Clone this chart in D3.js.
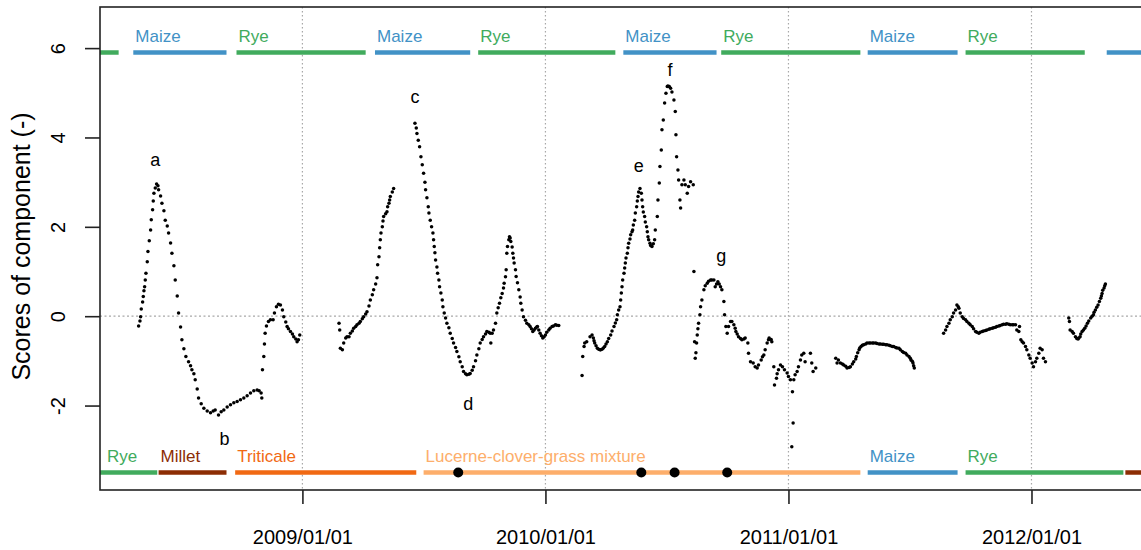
<!DOCTYPE html>
<html>
<head>
<meta charset="utf-8">
<style>
  body { margin: 0; background: #fff; }
  svg { display: block; font-family: "Liberation Sans", Arial, sans-serif; }
</style>
<title>Scores of component</title>
</head>
<body>
<script src="https://cdn.jsdelivr.net/npm/d3@7"></script>
<script>

/* data: [day, score], day counted from 2008-03-01 */

var dayZero = new Date(2008, 2, 1);

var run1 = [[60,-0.22],[62,-0.11],[63,-0.01],[64,0.16],[66,0.32],[67,0.44],[68,0.57],[69,0.66],[70,0.81],[71,0.96],[73,1.22],[74,1.45],[76,1.69],[78,1.93],[79,2.16],[81,2.38],[82,2.58],[83,2.75],[85,2.87],[87,2.96],
  [89,2.92],[90,2.83],[93,2.69],[95,2.53],[98,2.36],[100,2.15],[103,2.02],[105,1.86],[108,1.64],[110,1.41],[113,1.13],[115,0.81],[118,0.45],[120,0.07],[123,-0.24],[125,-0.53],[128,-0.73],[131,-0.90],[135,-1.02],[138,-1.11],[140,-1.20],[143,-1.29],[145,-1.42],[148,-1.63],[150,-1.83],[154,-1.96],[158,-2.06],[163,-2.12],[168,-2.16],[172,-2.12],[175,-2.10],[180,-2.21],[184,-2.14],[188,-2.10],[193,-2.03],[198,-1.98],[203,-1.94],[208,-1.91],[213,-1.87],[218,-1.83],[223,-1.78],[228,-1.72],[233,-1.67],[238,-1.65],[241,-1.67],[244,-1.72],[245,-1.83],
  [246,-1.20],[248,-0.90],[249,-0.62],[250,-0.38],[252,-0.22],[255,-0.12],[258,-0.08],[262,-0.08],[264,0.07],[267,0.21],[270,0.27],[273,0.25],[276,0.14],[278,-0.01],[281,-0.13],[283,-0.23],[285,-0.28],[288,-0.34],[291,-0.40],[293,-0.46],[296,-0.51],[298,-0.57],[300,-0.53],[302,-0.42]];

var run2 = [[361,-0.16],[362,-0.31],[363,-0.72],[366,-0.75],[368,-0.60],[371,-0.49],[373,-0.46],[376,-0.46],[378,-0.38],[381,-0.33],[383,-0.27],[386,-0.23],[388,-0.19],[391,-0.16],[393,-0.12],[396,-0.06],[398,-0.01],[401,0.05],[403,0.10],[406,0.23],[408,0.36],[411,0.48],[413,0.59],[416,0.72],[418,0.86],[419,1.15],[421,1.33],[422,1.53],[423,1.71],[424,1.86],[426,2.00],[427,2.13],[428,2.23],[431,2.29],[433,2.34],[434,2.45],[436,2.53],[437,2.60],[438,2.68],[441,2.78],[443,2.86]];

var run3 = [[475,4.32],[477,4.21],[478,4.09],[480,3.94],[482,3.79],[484,3.57],[486,3.39],[488,3.20],[490,3.00],[491,2.83],[493,2.65],[495,2.45],[496,2.31],[498,2.15],[500,2.00],[502,1.86],[503,1.71],[504,1.56],[505,1.42],[506,1.26],[508,1.10],[509,0.96],[511,0.81],[512,0.66],[514,0.52],[516,0.36],[517,0.21],[519,0.07],[521,-0.04],[523,-0.16],[526,-0.26],[528,-0.38],[531,-0.50],[533,-0.60],[536,-0.70],[538,-0.79],[541,-0.91],[543,-1.02],[546,-1.13],[548,-1.24],[551,-1.29],[553,-1.31],[556,-1.30],[558,-1.28],[561,-1.21],[563,-1.13],[566,-1.00],[568,-0.87],[571,-0.73],[573,-0.60],[576,-0.52],[578,-0.46],[581,-0.40],[583,-0.34],[586,-0.36],[588,-0.38],[589,-0.60],[591,-0.38],[593,-0.31],[596,-0.16],[598,0.07],[600,0.19],[602,0.29],[604,0.41],[606,0.51],[608,0.63],[609,0.74],[611,0.88],[612,1.04],[613,1.41],[614,1.56],[616,1.71],[617,1.78],[618,1.75],[619,1.67],[621,1.55],[622,1.41],[623,1.30],[624,1.19],[626,1.04],[627,0.89],[629,0.75],[631,0.59],[633,0.43],[634,0.29],[636,0.14],[638,-0.01],[641,-0.09],[643,-0.16],[646,-0.19],[648,-0.23],[650,-0.28],[652,-0.34],[654,-0.31],[656,-0.27],[658,-0.24],[659,-0.23],[661,-0.31],[663,-0.38],[665,-0.44],[667,-0.49],[669,-0.46],[671,-0.42],[673,-0.36],[676,-0.31],[678,-0.27],[681,-0.23],[683,-0.22],[686,-0.19],[688,-0.20],[691,-0.21]];

var run4 = [[726,-1.33],[727,-0.90],[729,-0.68],[730,-0.60],[733,-0.57],[738,-0.46],[741,-0.42],[743,-0.49],[744,-0.55],[745,-0.60],[747,-0.66],[749,-0.72],[751,-0.74],[753,-0.75],[754,-0.75],[756,-0.74],[758,-0.71],[760,-0.68],[762,-0.62],[764,-0.57],[766,-0.50],[769,-0.42],[771,-0.33],[774,-0.23],[776,-0.15],[778,-0.08],[779,0.03],[781,0.14],[783,0.21],[784,0.36],[785,0.52],[786,0.66],[787,0.81],[789,0.96],[790,1.08],[791,1.19],[792,1.30],[794,1.41],[795,1.53],[796,1.63],[798,1.73],[799,1.82],[801,1.89],[802,1.93],[803,2.04],[805,2.15],[806,2.31],[808,2.45],[809,2.58],[810,2.68],[811,2.78],[813,2.86],[815,2.75],[816,2.60],[817,2.45],[818,2.33],[820,2.23],[821,2.11],[823,2.00],[824,1.89],[825,1.78],[826,1.71],[828,1.63],[829,1.58],[831,1.56],[833,1.62],[835,1.71],[836,1.93],[839,2.23],[840,2.60],[842,2.98],[843,3.35],[845,3.72],[846,4.17],[848,4.39],[850,4.77],[852,4.99],[854,5.14],[855,5.15],[857,5.14],[859,5.10],[861,5.02],[864,4.84],[866,4.58],[867,4.06],[868,3.57],[870,3.27],[871,3.05],[873,2.60],[874,2.42],[876,2.94],[879,3.05],[881,2.94],[884,2.75],[886,2.90],[889,3.01],[893,2.94]];

var run5 = [[894,1.00],[895,-0.57],[896,-0.94],[897,-0.82],[898,-0.60],[899,-0.42],[900,-0.28],[901,-0.16],[903,0.03],[904,0.21],[906,0.36],[909,0.59],[911,0.68],[914,0.74],[916,0.78],[919,0.81],[921,0.81],[924,0.81],[926,0.66],[928,0.72],[930,0.77],[932,0.72],[934,0.66],[936,0.59],[939,0.33],[940,0.03],[942,-0.23],[944,-0.38],[946,-0.23],[949,-0.12],[951,-0.12],[954,-0.19],[956,-0.27],[957,-0.34],[959,-0.40],[961,-0.46],[964,-0.50],[966,-0.53],[969,-0.51],[971,-0.49],[975,-0.60],[976,-0.83],[979,-1.02],[983,-1.05],[986,-1.13],[989,-1.16],[991,-1.09],[995,-0.98],[997,-0.91],[999,-0.87],[1001,-0.75],[1004,-0.60],[1006,-0.53],[1007,-0.49],[1010,-0.52],[1011,-0.57],[1014,-1.13],[1015,-1.54],[1018,-1.39],[1019,-1.29],[1021,-1.20],[1024,-1.09],[1027,-1.13],[1030,-1.20],[1034,-1.27],[1036,-1.35],[1039,-1.42],[1041,-2.92],[1042,-1.69],[1043,-2.39],[1044,-1.42],[1046,-1.31],[1049,-1.24],[1051,-1.13],[1054,-0.98],[1056,-0.87],[1059,-0.83],[1061,-1.02],[1069,-0.83],[1071,-1.05],[1073,-1.24],[1077,-1.16]];

var run6 = [[1107,-0.94],[1109,-1.05],[1111,-0.98],[1114,-1.05],[1117,-1.07],[1119,-1.09],[1122,-1.12],[1124,-1.16],[1127,-1.15],[1129,-1.13],[1132,-1.07],[1134,-1.02],[1137,-0.96],[1138,-0.90],[1140,-0.82],[1142,-0.75],[1143,-0.71],[1145,-0.68],[1147,-0.65],[1149,-0.64],[1152,-0.62],[1154,-0.60],[1157,-0.60],[1159,-0.60],[1162,-0.60],[1164,-0.60],[1167,-0.60],[1169,-0.61],[1172,-0.62],[1174,-0.62],[1177,-0.63],[1179,-0.63],[1182,-0.64],[1184,-0.64],[1187,-0.65],[1189,-0.66],[1192,-0.68],[1194,-0.68],[1197,-0.70],[1199,-0.71],[1202,-0.72],[1204,-0.75],[1207,-0.79],[1209,-0.81],[1212,-0.83],[1214,-0.87],[1217,-0.90],[1219,-0.94],[1220,-0.98],[1222,-1.01],[1223,-1.05],[1224,-1.11],[1225,-1.16]];

var run7 = [[1269,-0.38],[1272,-0.31],[1274,-0.23],[1277,-0.16],[1279,-0.08],[1282,-0.01],[1284,0.07],[1287,0.14],[1289,0.25],[1291,0.21],[1292,0.18],[1294,0.07],[1297,-0.01],[1299,-0.05],[1302,-0.08],[1304,-0.12],[1307,-0.16],[1309,-0.19],[1312,-0.23],[1314,-0.28],[1317,-0.34],[1319,-0.36],[1322,-0.38],[1324,-0.36],[1327,-0.34],[1329,-0.33],[1332,-0.32],[1334,-0.31],[1337,-0.29],[1339,-0.28],[1342,-0.27],[1344,-0.26],[1347,-0.25],[1349,-0.23],[1352,-0.22],[1354,-0.21],[1357,-0.19],[1359,-0.18],[1362,-0.18],[1364,-0.17],[1367,-0.18],[1369,-0.19],[1372,-0.19],[1374,-0.19],[1377,-0.19],[1379,-0.31],[1382,-0.34],[1383,-0.23],[1385,-0.53],[1387,-0.57],[1389,-0.60],[1392,-0.68],[1394,-0.75],[1397,-0.87],[1399,-0.94],[1402,-1.05],[1404,-1.13],[1407,-1.02],[1409,-0.94],[1412,-0.83],[1414,-0.72],[1417,-0.75],[1419,-0.94],[1422,-1.02]];

var run8 = [[1457,-0.04],[1458,-0.12],[1459,-0.31],[1462,-0.34],[1464,-0.38],[1467,-0.46],[1469,-0.50],[1471,-0.51],[1472,-0.49],[1474,-0.46],[1475,-0.40],[1477,-0.34],[1479,-0.31],[1481,-0.27],[1483,-0.22],[1485,-0.16],[1487,-0.11],[1490,-0.04],[1492,0.00],[1494,0.03],[1495,0.09],[1497,0.14],[1499,0.20],[1501,0.25],[1503,0.33],[1505,0.40],[1506,0.45],[1507,0.51],[1508,0.58],[1510,0.63],[1511,0.68],[1512,0.72]];

/* crop periods */

var cropsTop = [
  {crop: "Rye",   start: "2007-10-01", end: "2008-03-31", label: false},
  {crop: "Maize", start: "2008-04-22", end: "2008-09-09", label: true},
  {crop: "Rye",   start: "2008-09-24", end: "2009-04-06", label: true},
  {crop: "Maize", start: "2009-04-20", end: "2009-09-10", label: true},
  {crop: "Rye",   start: "2009-09-22", end: "2010-04-16", label: true},
  {crop: "Maize", start: "2010-04-28", end: "2010-09-15", label: true},
  {crop: "Rye",   start: "2010-09-22", end: "2011-04-19", label: true},
  {crop: "Maize", start: "2011-04-30", end: "2011-09-12", label: true},
  {crop: "Rye",   start: "2011-09-24", end: "2012-03-21", label: true},
  {crop: "Maize", start: "2012-04-23", end: "2012-09-10", label: false}
];

var cropsBottom = [
  {crop: "Rye",       start: "2007-10-01", end: "2008-05-28", label: true},
  {crop: "Millet",    start: "2008-05-30", end: "2008-09-09", label: true},
  {crop: "Triticale", start: "2008-09-22", end: "2009-06-21", label: true},
  {crop: "Lucerne-clover-grass mixture", start: "2009-07-02", end: "2011-04-19", label: true},
  {crop: "Maize",     start: "2011-04-30", end: "2011-09-12", label: true},
  {crop: "Rye",       start: "2011-09-24", end: "2012-05-18", label: true},
  {crop: "Millet",    start: "2012-05-21", end: "2012-09-10", label: false}
];

var cuts = ["2009-08-23", "2010-05-25", "2010-07-14", "2010-10-01"];

var peaks = [
  {label: "a", date: "2008-05-25", value: 3.36},
  {label: "b", date: "2008-09-06", value: -2.88},
  {label: "c", date: "2009-06-19", value: 4.77},
  {label: "d", date: "2009-09-07", value: -2.10},
  {label: "e", date: "2010-05-21", value: 3.23},
  {label: "f", date: "2010-07-07", value: 5.38},
  {label: "g", date: "2010-09-22", value: 1.21}
];

var xTicks = ["2009-01-01", "2010-01-01", "2011-01-01", "2012-01-01"];
var yTicks = [-2, 0, 2, 4, 6];

var cropColour = {
  "Maize": "#4292c6",
  "Rye": "#41ab5d",
  "Millet": "#8c2d04",
  "Triticale": "#f16913",
  "Lucerne-clover-grass mixture": "#fdae6b"
};

/* graph parameters */

var totalWidth = 1141;
var totalHeight = 550;
var plot = {left: 100, top: 7, right: 1152, bottom: 490};
var topBarLevel = 5.9;
var bottomBarLevel = -3.5;

var parse = d3.timeParse("%Y-%m-%d");

var scaleX = d3.scaleTime()
  .domain([parse("2008-03-03"), parse("2012-06-30")])
  .range([plot.left, plot.right]);
var scaleY = d3.scaleLinear()
  .domain([-3.89, 6.92])
  .range([plot.bottom, plot.top]);

var svg = d3.select("body").append("svg")
  .attr("width", totalWidth)
  .attr("height", totalHeight);

svg.append("defs").append("clipPath").attr("id", "plotclip")
  .append("rect")
  .attr("x", plot.left).attr("y", plot.top)
  .attr("width", plot.right - plot.left).attr("height", plot.bottom - plot.top);

var inner = svg.append("g").attr("clip-path", "url(#plotclip)");

// grid: dotted year lines and zero line
inner.selectAll(".vgrid").data(xTicks).enter().append("line")
  .attr("x1", function(d) { return scaleX(parse(d)); })
  .attr("x2", function(d) { return scaleX(parse(d)); })
  .attr("y1", plot.top).attr("y2", plot.bottom)
  .style("stroke", "#a8a8a8").style("stroke-width", 1.2)
  .style("stroke-dasharray", "1.5,2.5");

inner.append("line")
  .attr("x1", plot.left).attr("x2", plot.right)
  .attr("y1", scaleY(0)).attr("y2", scaleY(0))
  .style("stroke", "#a8a8a8").style("stroke-width", 1.2)
  .style("stroke-dasharray", "2,2.5");

// crop bars
function drawCrops(list, level) {
  inner.selectAll(null).data(list).enter().append("line")
    .attr("x1", function(d) { return scaleX(parse(d.start)); })
    .attr("x2", function(d) { return scaleX(parse(d.end)); })
    .attr("y1", scaleY(level)).attr("y2", scaleY(level))
    .style("stroke", function(d) { return cropColour[d.crop]; })
    .style("stroke-width", 4.5);

  svg.selectAll(null).data(list.filter(function(d) { return d.label; })).enter().append("text")
    .attr("x", function(d) { return Math.max(scaleX(parse(d.start)), plot.left + 5) + 2; })
    .attr("y", scaleY(level) - 11)
    .style("font-size", "17px")
    .style("fill", function(d) { return cropColour[d.crop]; })
    .text(function(d) { return d.crop; });
}
drawCrops(cropsTop, topBarLevel);
drawCrops(cropsBottom, bottomBarLevel);

inner.selectAll(".cut").data(cuts).enter().append("circle")
  .attr("cx", function(d) { return scaleX(parse(d)); })
  .attr("cy", scaleY(bottomBarLevel))
  .attr("r", 5)
  .style("fill", "#000");

// scores
var points = [].concat(run1, run2, run3, run4, run5, run6, run7, run8);

inner.selectAll(".dot").data(points).enter().append("circle")
  .attr("cx", function(d) { return scaleX(d3.timeDay.offset(dayZero, d[0])); })
  .attr("cy", function(d) { return scaleY(d[1]); })
  .attr("r", 1.75)
  .style("fill", "#000");

// peak letters
svg.selectAll(".peak").data(peaks).enter().append("text")
  .attr("x", function(d) { return scaleX(parse(d.date)); })
  .attr("y", function(d) { return scaleY(d.value); })
  .attr("text-anchor", "middle")
  .style("font-size", "18px")
  .style("fill", "#000")
  .text(function(d) { return d.label; });

// box
svg.append("rect")
  .attr("x", plot.left).attr("y", plot.top)
  .attr("width", plot.right - plot.left).attr("height", plot.bottom - plot.top)
  .style("fill", "none").style("stroke", "#222").style("stroke-width", 1.6);

// X axis
var xAxis = d3.axisBottom(scaleX)
  .tickValues(xTicks.map(parse))
  .tickFormat(d3.timeFormat("%Y/%m/%d"))
  .tickSize(14).tickPadding(26);

var gx = svg.append("g")
  .attr("transform", "translate(0," + plot.bottom + ")")
  .call(xAxis);
gx.select(".domain").remove();
gx.selectAll("line").style("stroke", "#222").style("stroke-width", 1.6);
gx.selectAll("text").style("font-size", "20px").style("fill", "#000")
  .style("font-family", "'Liberation Sans', Arial, sans-serif");

// Y axis
var yAxis = d3.axisLeft(scaleY)
  .tickValues(yTicks)
  .tickFormat(function(d) { return String(d); })
  .tickSize(15);

var gy = svg.append("g")
  .attr("transform", "translate(" + plot.left + ",0)")
  .call(yAxis);
gy.select(".domain").remove();
gy.selectAll("line").style("stroke", "#222").style("stroke-width", 1.6);
gy.selectAll("text")
  .attr("transform", "rotate(-90)")
  .attr("x", 0).attr("y", -35).attr("dy", null)
  .attr("text-anchor", "middle")
  .style("font-size", "20px").style("fill", "#000")
  .style("font-family", "'Liberation Sans', Arial, sans-serif");

svg.append("text")
  .attr("transform", "translate(30," + ((plot.top + plot.bottom) / 2 - 2) + ") rotate(-90)")
  .attr("text-anchor", "middle")
  .style("font-size", "25px")
  .style("fill", "#000")
  .text("Scores of component (-)");

</script>
</body>
</html>
